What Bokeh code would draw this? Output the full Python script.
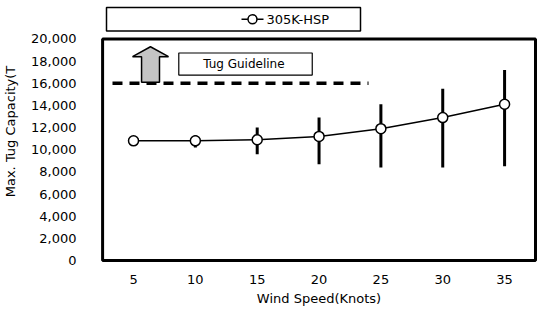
from bokeh.plotting import figure
from bokeh.models import Range1d, FixedTicker, NumeralTickFormatter
from bokeh.core.properties import value
from bokeh.embed import file_html
from bokeh.resources import INLINE

# ---- data ----
wind_speed = [5, 10, 15, 20, 25, 30, 35]
capacity = [10800, 10800, 10900, 11200, 11900, 12900, 14100]
cap_high = [10800, 11300, 12000, 12900, 14100, 15500, 17200]
cap_low = [10800, 10200, 9600, 8700, 8400, 8400, 8500]
series_name = "305K-HSP"

guideline_value = 16000
guideline_x = [3.3, 24.0]
guideline_label = "Tug Guideline"

y_ticks = list(range(0, 20001, 2000))
x_ticks = wind_speed
x_min, x_max = 2.5, 37.5
y_min, y_max = 0, 20000

# ---- layout (figure pixels) ----
W, H = 538, 308
MB_L, MB_R, MB_T, MB_B = 99, 0, 0, 42
PX_XMIN, PX_XMAX = 102.1, 535.0            # where x_min / x_max fall
PY_YMAX, PY_YMIN = 39.0, 264.0             # where y_max / y_min fall
fl, fr = MB_L, W - MB_R
ft, fb = MB_T, H - MB_B
kx = (x_max - x_min) / (PX_XMAX - PX_XMIN)
ky = (y_max - y_min) / (PY_YMIN - PY_YMAX)
def dx(px): return x_min + (px - PX_XMIN) * kx
def dy(py): return y_min + (PY_YMIN - py) * ky

# annotation geometry, in data units relative to the axes
arrow_x = [5.65, 5.65, 4.92, 6.37, 7.83, 7.10, 7.10]
arrow_y = [16100, 18400, 18400, 19290, 18400, 18400, 16100]
label_box = dict(left=8.66, right=19.45, bottom=16740, top=18730)
label_pos = (13.92, 17750)

FONT = "DejaVu Sans"

p = figure(width=W, height=H,
           x_range=Range1d(dx(fl), dx(fr)), y_range=Range1d(dy(fb), dy(ft)),
           output_backend="svg", toolbar_location=None,
           min_border_left=MB_L, min_border_right=MB_R, min_border_top=MB_T, min_border_bottom=MB_B)
p.outline_line_color = None
p.grid.visible = False

for ax in (p.xaxis, p.yaxis):
    ax.axis_line_color = None
    ax.major_tick_line_color = None
    ax.minor_tick_line_color = None
    ax.major_label_text_font = FONT
    ax.major_label_text_font_size = "13px"
    ax.major_label_text_color = "black"
    ax.axis_label_text_font = FONT
    ax.axis_label_text_font_size = "13px"
    ax.axis_label_text_font_style = "normal"
    ax.axis_label_text_color = "black"

p.xaxis.ticker = FixedTicker(ticks=x_ticks)
p.yaxis.ticker = FixedTicker(ticks=y_ticks)
p.yaxis.formatter = NumeralTickFormatter(format="0,0")
p.xaxis.major_label_standoff = 6
p.yaxis.major_label_standoff = 17
p.xaxis.axis_label = "Wind Speed(Knots)"
p.yaxis.axis_label = "Max. Tug Capacity(T"
p.xaxis.axis_label_standoff = 4
p.yaxis.axis_label_standoff = 10

# plot-area border
p.quad(left=[x_min], right=[x_max], bottom=[y_min], top=[y_max], fill_color=None,
       line_color="black", line_width=3)

# legend box (placed above the plot area)
p.quad(left=[dx(106)], right=[dx(360)], bottom=[dy(31)], top=[dy(7)],
       fill_color="white", line_color="black", line_width=1.5)
p.line([dx(241), dx(263)], [dy(19)] * 2, line_color="black", line_width=1.5)
p.scatter([dx(252)], [dy(19)], size=9, fill_color="white", line_color="black", line_width=1.5)
p.text(x=[dx(266)], y=[dy(19)], text=[series_name], text_baseline="middle", text_align="left",
       text_font=value(FONT), text_font_size="13px", text_color="black")

# guideline
p.line(guideline_x, [guideline_value] * 2, line_color="black", line_width=3.5, line_dash="10 7")
p.patch(arrow_x, arrow_y, fill_color="#c4c4c4", line_color="black", line_width=1.5)
p.quad(left=[label_box["left"]], right=[label_box["right"]], bottom=[label_box["bottom"]],
       top=[label_box["top"]], fill_color="white", line_color="black", line_width=1.2)
p.text(x=[label_pos[0]], y=[label_pos[1]], text=[guideline_label], text_align="center",
       text_baseline="middle", text_font=value(FONT), text_font_size="12px", text_color="black")

# error bars
p.segment(x0=wind_speed, y0=cap_low, x1=wind_speed, y1=cap_high, line_color="black", line_width=3)
# series
p.line(wind_speed, capacity, line_color="black", line_width=1.5)
p.scatter(wind_speed, capacity, size=10, fill_color="white", line_color="black", line_width=1.5)

open("out.html", "w").write(file_html(p, INLINE))
